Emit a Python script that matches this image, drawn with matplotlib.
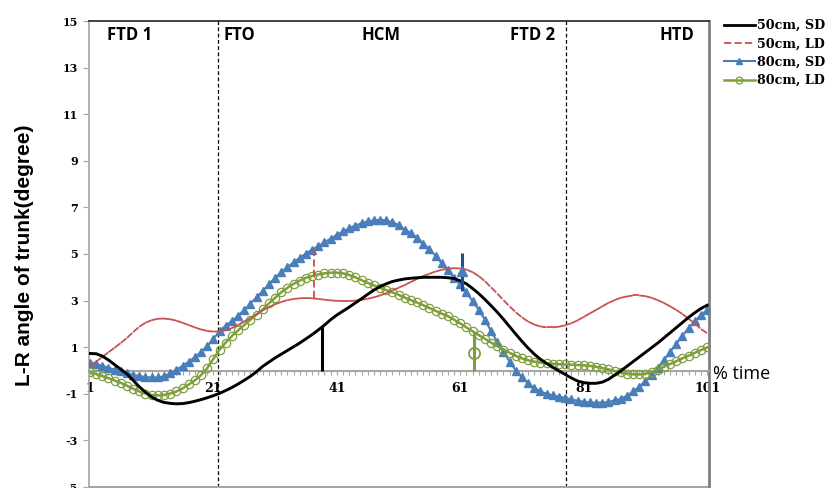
import matplotlib
matplotlib.use('Agg')
import matplotlib.pyplot as plt
from matplotlib.collections import LineCollection
from matplotlib.ticker import MultipleLocator, FixedLocator
import numpy as np

# % time axis (1..101)
time_pct = list(range(1, 102))

sd_50 = [0.73, 0.72, 0.62, 0.45, 0.25, 0.05, -0.15, -0.42, -0.7, -0.93,
         -1.14, -1.28, -1.37, -1.41, -1.43, -1.42, -1.38, -1.32, -1.25, -1.17,
         -1.08, -0.98, -0.86, -0.73, -0.58, -0.42, -0.25, -0.05, 0.18, 0.36,
         0.54, 0.7, 0.86, 1.02, 1.18, 1.36, 1.54, 1.74, 1.95, 2.18,
         2.38, 2.55, 2.72, 2.9, 3.08, 3.27, 3.45, 3.6, 3.72, 3.82,
         3.88, 3.93, 3.96, 3.98, 4.0, 4.0, 4.0, 4.0, 3.98, 3.95,
         3.85, 3.72, 3.52, 3.3, 3.05, 2.78, 2.5, 2.2, 1.88, 1.56,
         1.25, 0.96, 0.7, 0.48, 0.3, 0.14, -0.02, -0.17, -0.32, -0.45,
         -0.52, -0.55, -0.55, -0.5, -0.38, -0.2, -0.02, 0.18, 0.38, 0.58,
         0.78, 0.98, 1.18, 1.4, 1.62, 1.84, 2.06, 2.28, 2.48, 2.66,
         2.8]

ld_50 = [0.2, 0.38, 0.58, 0.78, 0.98, 1.18, 1.4, 1.65, 1.88, 2.05,
         2.16, 2.22, 2.23, 2.2, 2.14, 2.05, 1.95, 1.85, 1.76, 1.7,
         1.67, 1.68, 1.73, 1.82, 1.95, 2.1, 2.25, 2.42, 2.58, 2.72,
         2.84, 2.94, 3.02, 3.07, 3.1, 3.11, 3.1, 3.07, 3.04, 3.01,
         2.99, 2.98, 2.98, 3.0, 3.03, 3.08, 3.14, 3.22, 3.32, 3.43,
         3.55, 3.67, 3.8, 3.93, 4.05, 4.15, 4.25, 4.32, 4.37, 4.39,
         4.38, 4.33, 4.22, 4.05, 3.83, 3.57, 3.3, 3.02, 2.75, 2.5,
         2.28, 2.1, 1.97, 1.89, 1.85, 1.85, 1.88, 1.94, 2.03, 2.15,
         2.3, 2.45, 2.6, 2.75, 2.9, 3.02, 3.12, 3.18, 3.22, 3.22,
         3.19, 3.12, 3.02, 2.9, 2.75, 2.6, 2.42, 2.22, 2.02, 1.78,
         1.6]

sd_80 = [0.34, 0.27, 0.2, 0.12, 0.04, -0.04, -0.11, -0.18, -0.24, -0.28,
         -0.3, -0.3, -0.25, -0.12, 0.03, 0.2, 0.38, 0.57, 0.8, 1.05,
         1.35, 1.7, 1.92, 2.12, 2.35, 2.6, 2.87, 3.14, 3.42, 3.7,
         3.98, 4.22, 4.44, 4.64, 4.84, 5.02, 5.18, 5.34, 5.5, 5.66,
         5.82, 5.97, 6.1, 6.22, 6.32, 6.4, 6.45, 6.47, 6.44, 6.36,
         6.25, 6.05, 5.9, 5.7, 5.45, 5.2, 4.93, 4.6, 4.3, 3.98,
         3.7, 3.35, 2.98, 2.6, 2.18, 1.68, 1.22, 0.8, 0.38, 0.0,
         -0.3, -0.55, -0.75, -0.9, -1.0, -1.07, -1.12, -1.18, -1.24, -1.3,
         -1.34, -1.37, -1.38, -1.38, -1.35, -1.28, -1.22, -1.08, -0.9, -0.7,
         -0.45, -0.18, 0.12, 0.45, 0.8, 1.15, 1.5, 1.82, 2.12, 2.38,
         2.6]

ld_80 = [-0.08, -0.15, -0.24, -0.33, -0.43, -0.53, -0.65, -0.78, -0.9, -0.99,
         -1.05, -1.07, -1.05, -0.99, -0.9, -0.77, -0.6, -0.42, -0.2, 0.1,
         0.5, 0.9, 1.2, 1.48, 1.72, 1.95, 2.18, 2.4, 2.62, 2.88,
         3.12, 3.36, 3.55, 3.72, 3.86, 3.98, 4.06, 4.12, 4.17, 4.2,
         4.2, 4.17, 4.1, 4.0, 3.88, 3.76, 3.65, 3.55, 3.45, 3.35,
         3.25, 3.13, 3.02, 2.92, 2.8, 2.68, 2.56, 2.44, 2.33, 2.18,
         2.02, 1.85, 1.68, 1.52, 1.36, 1.2, 1.05, 0.9, 0.76, 0.63,
         0.52, 0.44, 0.38, 0.34, 0.31, 0.29, 0.27, 0.26, 0.25, 0.24,
         0.22, 0.2, 0.16, 0.11, 0.05, -0.02, -0.08, -0.13, -0.16, -0.17,
         -0.14, -0.07, 0.04, 0.16, 0.28, 0.4, 0.52, 0.64, 0.76, 0.88,
         0.99]

# event markers: x, low, high (and marker value)
sd50_event = (38.6, 0.0, 1.93)
ld50_event = (37.3, 3.1, 5.2)
sd80_event = (61.3, 3.4, 5.05, 4.25)
ld80_event = (63.2, 0.0, 1.67, 0.73)

phase_bounds = [21.7, 78.1]
phase_names = ['FTD 1', 'FTO', 'HCM', 'FTD 2', 'HTD']
xtick_vals = [1, 21, 41, 61, 81, 101]
ytick_vals = list(range(-5, 16, 2))

C_BLACK = '#000000'
C_RED = '#C9504D'
C_BLUE = '#4A7EBB'
C_NAVY = '#1F4E8C'
C_GREEN = '#7F9F3F'

SERIF = 'DejaVu Serif'
SANS = 'Open Sans'

fig = plt.figure(figsize=(8.33, 4.88), dpi=100)
ax = fig.add_axes([89 / 833, 1 / 488, 620 / 833, 466 / 488])
ax.set_xlim(0.85, 101.3)
ax.set_ylim(-5, 15)

# phase separators
for xb in phase_bounds:
    ax.axvline(xb, color='black', lw=0.9, ls=(0, (3, 2)), zorder=2)

# series
ax.plot(time_pct, sd_50, color=C_BLACK, lw=2.1, zorder=5)

pts = np.column_stack([time_pct, ld_50])
segs = np.stack([pts[:-1], pts[1:]], axis=1)
ax.add_collection(LineCollection(segs, colors=C_RED, linewidths=1.3,
                                 linestyles=[(0, (4, 1.8))], zorder=4))

ax.plot(time_pct, sd_80, color=C_BLUE, lw=1.5, marker='^', ms=6,
        mec=C_BLUE, mfc=C_BLUE, zorder=3)
ax.plot(time_pct, ld_80, color=C_GREEN, lw=1.8, marker='o', ms=6,
        mec=C_GREEN, mfc='none', mew=0.9, zorder=3)

# event markers
ax.vlines(sd50_event[0], sd50_event[1], sd50_event[2], color='black', lw=2.2, zorder=6)
ax.vlines(ld50_event[0], ld50_event[1], ld50_event[2], color=C_RED, lw=1.3,
          linestyles=[(0, (4, 1.8))], zorder=6)
ax.vlines(sd80_event[0], sd80_event[1], sd80_event[2], color=C_NAVY, lw=2.2, zorder=6)
ax.plot(sd80_event[0], sd80_event[3], marker='^', ms=7, color=C_BLUE, zorder=7)
ax.vlines(ld80_event[0], ld80_event[1], ld80_event[2], color=C_GREEN, lw=2.2, zorder=6)
ax.plot(ld80_event[0], ld80_event[3], marker='o', ms=8, mfc='none', mec=C_GREEN,
        mew=1.3, zorder=7)

# spines
ax.spines['bottom'].set_position(('data', 0))
ax.spines['bottom'].set_color('#A6A6A6')
ax.spines['bottom'].set_linewidth(1.5)
ax.spines['left'].set_color('#A6A6A6')
ax.spines['left'].set_linewidth(1.2)
ax.spines['top'].set_color('#333333')
ax.spines['top'].set_linewidth(1.3)
ax.spines['right'].set_color('#7F7F7F')
ax.spines['right'].set_linewidth(2.0)
ax.axhline(-5, color='#A6A6A6', lw=1.5, clip_on=False)

ax.xaxis.set_major_locator(FixedLocator(xtick_vals))
ax.xaxis.set_minor_locator(MultipleLocator(1))
ax.tick_params(axis='x', which='both', direction='out', length=3, width=0.8,
               color='#A6A6A6', pad=5)
ax.set_xticklabels([str(v) for v in xtick_vals], fontfamily=SERIF,
                   fontweight='bold', fontsize=9)

ax.yaxis.set_major_locator(FixedLocator(ytick_vals))
ax.tick_params(axis='y', direction='out', length=4, width=0.8, color='#A6A6A6', pad=4)
ax.set_yticklabels([str(v) for v in ytick_vals], fontfamily=SERIF,
                   fontweight='bold', fontsize=8)

# phase labels
lab_y = 14.4
ax.text(3.8, lab_y, phase_names[0], ha='left', va='center', fontfamily=SANS,
        fontweight='bold', fontsize=12)
ax.text(22.7, lab_y, phase_names[1], ha='left', va='center', fontfamily=SANS,
        fontweight='bold', fontsize=12)
ax.text(48.2, lab_y, phase_names[2], ha='center', va='center', fontfamily=SANS,
        fontweight='bold', fontsize=12)
ax.text(76.4, lab_y, phase_names[3], ha='right', va='center', fontfamily=SANS,
        fontweight='bold', fontsize=12)
ax.text(99.0, lab_y, phase_names[4], ha='right', va='center', fontfamily=SANS,
        fontweight='bold', fontsize=12)

ax.text(102.0, -0.15, '% time', ha='left', va='center', fontfamily=SANS,
        fontsize=13, clip_on=False)

fig.text(25 / 833, 1 - 255 / 488, 'L-R angle of trunk(degree)', rotation=90,
         ha='center', va='center', fontfamily='Liberation Sans',
         fontweight='bold', fontsize=15)

# legend
handles = [
    plt.Line2D([], [], color=C_BLACK, lw=2.0),
    plt.Line2D([], [], color=C_RED, lw=1.3, ls=(0, (4, 1.8))),
    plt.Line2D([], [], color=C_BLUE, lw=1.5, marker='^', ms=5),
    plt.Line2D([], [], color=C_GREEN, lw=1.8, marker='o', ms=5, mfc='none', mew=0.9),
]
labels = ['50cm, SD', '50cm, LD', '80cm, SD', '80cm, LD']
fig.legend(handles, labels, loc='upper left', bbox_to_anchor=(724 / 833, 1 - 19 / 488),
           frameon=False, borderpad=0, borderaxespad=0, handlelength=2.4,
           handletextpad=0.15, labelspacing=0.42,
           prop={'family': SERIF, 'weight': 'bold', 'size': 9.2})

fig.savefig('out.png', dpi=100)
